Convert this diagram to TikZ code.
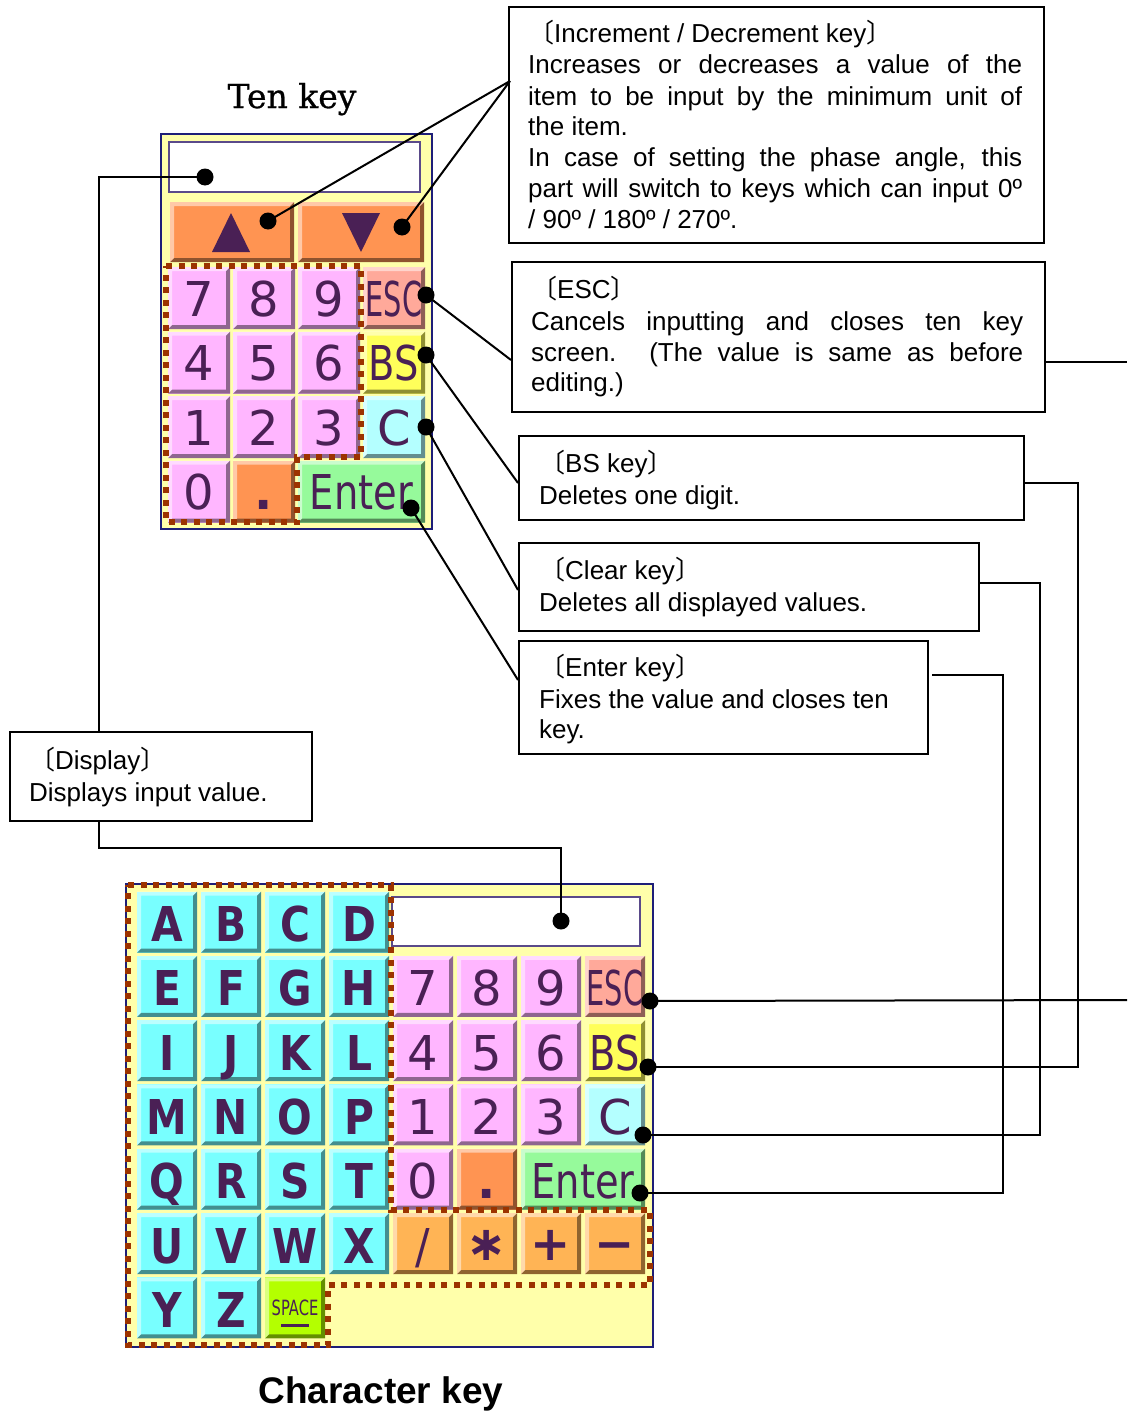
\documentclass[tikz,border=0pt]{standalone}
\usepackage{fontspec}
\usepackage{graphicx}
\setmainfont{Liberation Sans}
\newfontfamily\cjk{Noto Sans CJK JP}
\newfontfamily\keyfont{DejaVu Sans}
\newfontfamily\titleserif[FakeBold=0.8]{DejaVu Serif}
\definecolor{panelY}{HTML}{FFFFAA}
\definecolor{panelB}{HTML}{1E1E78}
\definecolor{dispB}{HTML}{5A4A8A}
\definecolor{pinkK}{HTML}{FFB6FF}
\definecolor{orangeK}{HTML}{FF9452}
\definecolor{opK}{HTML}{FFB455}
\definecolor{escK}{HTML}{FFA99A}
\definecolor{bsK}{HTML}{FFFF5A}
\definecolor{cK}{HTML}{B4FFFF}
\definecolor{entK}{HTML}{96FA9B}
\definecolor{letK}{HTML}{78FFFF}
\definecolor{spK}{HTML}{B4FF00}
\definecolor{keytxt}{HTML}{4A2055}
\definecolor{dotbrown}{HTML}{9C3300}
\newcommand\desc{\fontsize{26}{31}\selectfont}
\newcommand\lb{{\cjk 〔}}
\newcommand\rb{{\cjk 〕}}
\newcommand\jl[2]{\makebox[#1][s]{#2}}
\newcommand\dg{\keyfont\fontsize{48}{48}\selectfont}
\newcommand\lt{\keyfont\bfseries\fontsize{48}{48}\selectfont}
\newcommand\key[8]{%
  \fill[#5] (#1,#2) rectangle ++(#3,#4);
  \fill[#5!45!black,opacity=.8] (#1+#3,#2) -- ++(0,#4) -- ++(-#3,0) -- ++(4,-4) -- ++(#3-8,0) -- ++(0,-#4+8) -- cycle;
  \fill[white,opacity=.5] (#1,#2+#4) -- ++(0,-#4) -- ++(#3,0) -- ++(-4,4) -- ++(-#3+8,0) -- ++(0,#4-8) -- cycle;
  \node[keylbl] (#6) at ({#1+#3/2},{#2+#8}) {#7};
}
\begin{document}
\begin{tikzpicture}[x=1pt,y=-1pt,
  conn/.style={line width=2pt, draw=black},
  dotc/.style={circle, fill=black, inner sep=0pt, minimum size=17pt},
  descbox/.style={draw=black, line width=2pt, fill=white, inner sep=0pt, anchor=north west},
  txt/.style={anchor=base west, inner sep=0pt, font=\desc},
  keylbl/.style={anchor=base, inner sep=0pt, text=keytxt},
  dotline/.style={draw=dotbrown, line width=6pt, dash pattern=on 6pt off 6.5pt}]
\useasboundingbox (0,0) rectangle (1127,1413);
\fill[white] (0,0) rectangle (1127,1413);

% ---------------- titles
\node[anchor=base, inner sep=0pt] (tentitle) at (292,108) {\titleserif\fontsize{33}{33}\selectfont Ten key};
\node[anchor=base, inner sep=0pt] (chartitle) at (381,1403) {\fontsize{37}{37}\selectfont\bfseries Character key};

% ---------------- ten key panel
\filldraw[fill=panelY, draw=panelB, line width=2pt] (161,134) rectangle (432,529);
\filldraw[fill=white, draw=dispB, line width=2pt] (169,142) rectangle (420,192);
\key{170}{202}{124}{60}{orangeK}{tUp}{}{49}
\key{298}{202}{126}{60}{orangeK}{tDown}{}{49}
\fill[keytxt] (231,213) -- (250,252) -- (212,252) -- cycle;
\fill[keytxt] (342,213) -- (380,213) -- (361,252) -- cycle;
\foreach \d/\c/\r in {7/0/0,8/1/0,9/2/0,4/0/1,5/1/1,6/2/1,1/0/2,2/1/2,3/2/2,0/0/3} {
  \pgfmathsetmacro\kx{168+65*\c}
  \pgfmathsetmacro\ky{267+64.5*\r}
  \key{\kx}{\ky}{62}{62}{pinkK}{t\d}{\dg\d}{49}
}
\key{233}{460.5}{62}{62}{orangeK}{tDot}{\lt .}{49}
\key{363}{267}{62}{62}{escK}{tEsc}{\dg\scalebox{.6}[1]{ESC}}{49}
\key{363}{331.5}{62}{62}{bsK}{tBS}{\dg\scalebox{.8}[1]{BS}}{49}
\key{363}{396}{62}{62}{cK}{tC}{\dg C}{49}
\key{298}{460.5}{127}{62}{entK}{tEnt}{\dg\scalebox{.8}[1]{Enter}}{49}
\draw[dotline] (166,266) -- (361,266) -- (361,457) -- (297,457) -- (297,522) -- (166,522) -- cycle;

% ---------------- character key panel
\filldraw[fill=panelY, draw=panelB, line width=2pt] (126,884) rectangle (653,1347);
\filldraw[fill=white, draw=dispB, line width=2pt] (392,897) rectangle (640,946);
\foreach \l [count=\i from 0] in {A,B,C,D,E,F,G,H,I,J,K,L,M,N,O,P,Q,R,S,T,U,V,W,X} {
  \pgfmathsetmacro\kx{137+64*mod(\i,4)}
  \pgfmathsetmacro\ky{891.5+64.3*floor(\i/4)}
  \key{\kx}{\ky}{60}{61}{letK}{c\l}{\lt\scalebox{.85}[1]{\l}}{50}
}
\key{137}{1277.3}{60}{61}{letK}{cY}{\lt\scalebox{.85}[1]{Y}}{50}
\key{201}{1277.3}{60}{61}{letK}{cZ}{\lt\scalebox{.85}[1]{Z}}{50}
\key{265}{1277.3}{60}{61}{spK}{cSpace}{\keyfont\fontsize{21}{21}\selectfont\scalebox{.7}[1]{SPACE}}{38}
\draw[keytxt, line width=3pt] (281,1325) -- (309,1325);
\foreach \d/\c/\r in {7/4/1,8/5/1,9/6/1,4/4/2,5/5/2,6/6/2,1/4/3,2/5/3,3/6/3,0/4/4} {
  \pgfmathsetmacro\kx{137+64*\c}
  \pgfmathsetmacro\ky{891.5+64.3*\r}
  \key{\kx}{\ky}{60}{61}{pinkK}{n\d}{\dg\d}{50}
}
\key{457}{1148.7}{60}{61}{orangeK}{nDot}{\lt .}{50}
\key{585}{955.8}{60}{61}{escK}{nEsc}{\dg\scalebox{.6}[1]{ESC}}{50}
\key{585}{1020.1}{60}{61}{bsK}{nBS}{\dg\scalebox{.8}[1]{BS}}{50}
\key{585}{1084.4}{60}{61}{cK}{nC}{\dg C}{50}
\key{521}{1148.7}{124}{61}{entK}{nEnt}{\dg\scalebox{.8}[1]{Enter}}{50}
\key{393}{1213}{60}{61}{opK}{nDiv}{\dg\scalebox{.9}[1]{/}}{50}
\key{457}{1213}{60}{61}{opK}{nMul}{\lt ∗}{47}
\key{521}{1213}{60}{61}{opK}{nAdd}{\lt +}{47}
\key{585}{1213}{60}{61}{opK}{nSub}{\lt −}{47}
\draw[dotline] (128,885) -- (391,885) -- (391,1210) -- (650,1210) -- (650,1285) -- (328,1285) -- (328,1345) -- (128,1345) -- cycle;

% ---------------- description boxes
\node[descbox, minimum width=535pt, minimum height=236pt] (incbox) at (508,6) {};
\node[txt] (inc1) at (528,43) {\lb Increment / Decrement key\rb};
\node[txt] (inc2) at (528,74) {\jl{494pt}{Increases or decreases a value of the}};
\node[txt] (inc3) at (528,105) {\jl{494pt}{item to be input by the minimum unit of}};
\node[txt] (inc4) at (528,135) {the item.};
\node[txt] (inc5) at (528,166) {\jl{494pt}{In case of setting the phase angle, this}};
\node[txt] (inc6) at (528,197) {\jl{494pt}{part will switch to keys which can input 0º}};
\node[txt] (inc7) at (528,228) {/ 90º / 180º / 270º.};

\node[descbox, minimum width=533pt, minimum height=150pt] (escbox) at (511,261) {};
\node[txt] (esc1) at (531,298) {\lb ESC\rb};
\node[txt] (esc2) at (531,330) {\jl{492pt}{Cancels inputting and closes ten key}};
\node[txt] (esc3) at (531,361) {\jl{492pt}{screen. (The value is same as before}};
\node[txt] (esc4) at (531,391) {editing.)};

\node[descbox, minimum width=505pt, minimum height=84pt] (bsbox) at (518,435) {};
\node[txt] (bs1) at (539,472) {\lb BS key\rb};
\node[txt] (bs2) at (539,504) {Deletes one digit.};

\node[descbox, minimum width=460pt, minimum height=88pt] (clrbox) at (518,542) {};
\node[txt] (clr1) at (539,579) {\lb Clear key\rb};
\node[txt] (clr2) at (539,611) {Deletes all displayed values.};

\node[descbox, minimum width=409pt, minimum height=113pt] (entbox) at (518,640) {};
\node[txt] (ent1) at (539,676) {\lb Enter key\rb};
\node[txt] (ent2) at (539,708) {Fixes the value and closes ten};
\node[txt] (ent3) at (539,738) {key.};

\node[descbox, minimum width=302pt, minimum height=89pt] (dispbox) at (9,731) {};
\node[txt] (disp1) at (29,769) {\lb Display\rb};
\node[txt] (disp2) at (29,801) {Displays input value.};

% ---------------- connector points
\coordinate (incJ) at (510,81);
\coordinate (escL) at (511,360);
\coordinate (bsL) at (518,483);
\coordinate (clrL) at (518,590);
\coordinate (entL) at (518,680);
\coordinate (escR) at (1044,362);
\coordinate (edgeA) at (1127,362);
\coordinate (bsR) at (1023,483);
\coordinate (clrR) at (978,583);
\coordinate (entR) at (932,675);
\coordinate (edgeB) at (1127,1000);
\coordinate (dispT) at (99,731);
\coordinate (dispB) at (99,820);

\node[dotc] (dDisp1) at (205,177) {};
\node[dotc] (dUp) at (268,221) {};
\node[dotc] (dDown) at (402,227) {};
\node[dotc] (dEsc1) at (426,295) {};
\node[dotc] (dBS1) at (426,355) {};
\node[dotc] (dC1) at (426,427) {};
\node[dotc] (dEnt1) at (411,508) {};
\node[dotc] (dDisp2) at (561,921) {};
\node[dotc] (dEsc2) at (650,1001) {};
\node[dotc] (dBS2) at (648,1067) {};
\node[dotc] (dC2) at (643,1135) {};
\node[dotc] (dEnt2) at (640,1193) {};

% ---------------- connectors
\draw[conn] (dDisp1.center) -| (dispT);
\draw[conn] (dispB) -- (99,848) -| (dDisp2.center);
\draw[conn] (dUp.center) -- (incJ);
\draw[conn] (dDown.center) -- (incJ);
\draw[conn] (dEsc1.center) -- (escL);
\draw[conn] (dBS1.center) -- (bsL);
\draw[conn] (dC1.center) -- (clrL);
\draw[conn] (dEnt1.center) -- (entL);
\draw[conn] (escR) -- (edgeA);
\draw[conn] (bsR) -- ++(55,0) |- (dBS2.center);
\draw[conn] (clrR) -- ++(62,0) |- (dC2.center);
\draw[conn] (entR) -- ++(71,0) |- (dEnt2.center);
\draw[conn] (dEsc2.center) -- (edgeB);
\end{tikzpicture}
\end{document}
